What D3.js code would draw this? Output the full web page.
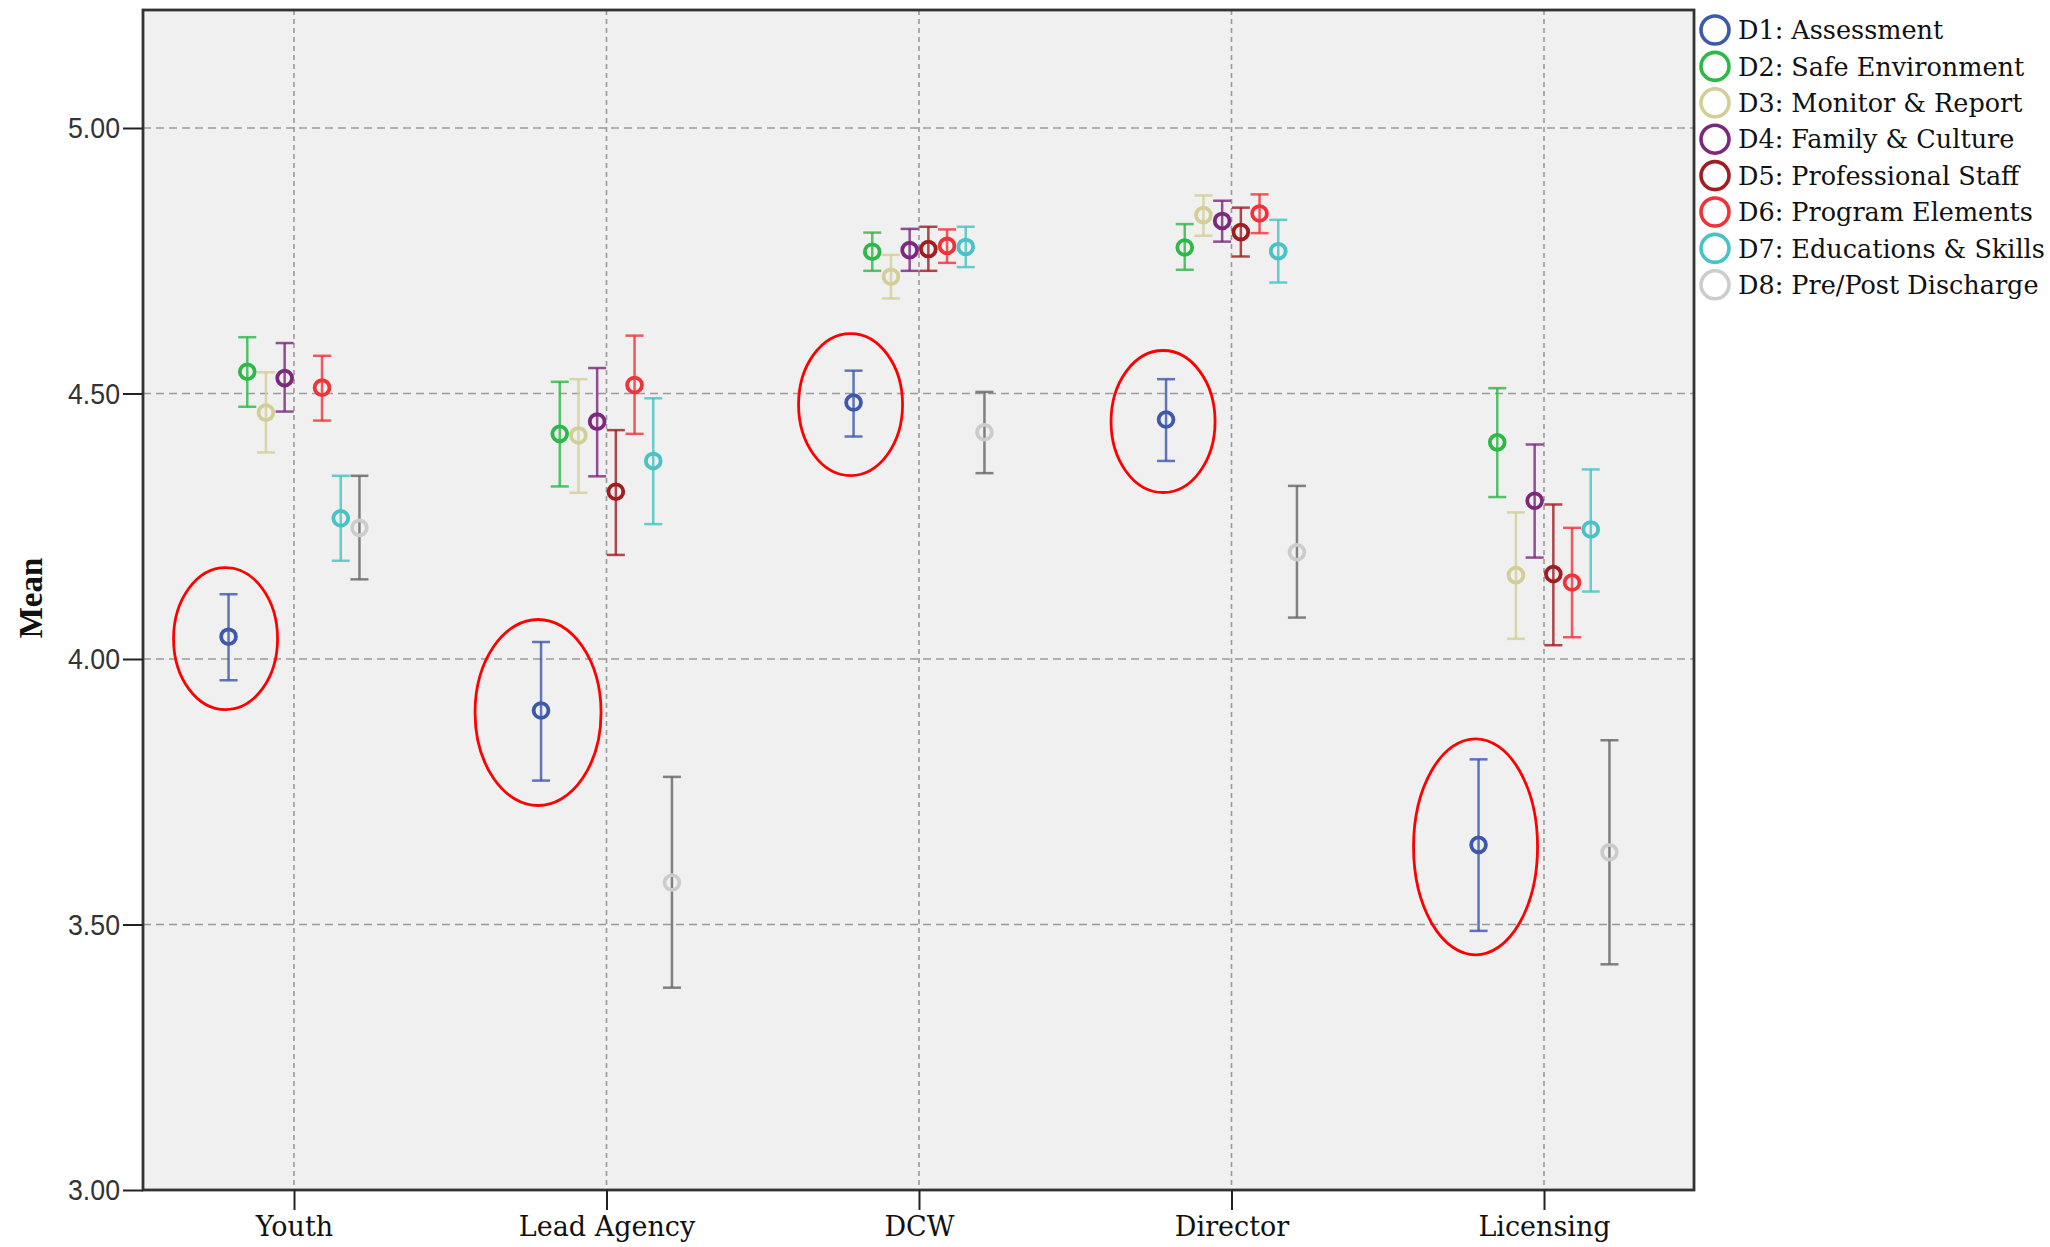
<!DOCTYPE html>
<html>
<head>
<meta charset="utf-8">
<script src="https://cdn.jsdelivr.net/npm/d3@7/dist/d3.min.js"></script>
<style>
  html, body { margin: 0; padding: 0; background: #ffffff; }
  svg { display: block; }
</style>
</head>
<body>
<svg id="chart" width="2050" height="1247"></svg>
<script>
// ---------------- DATA ----------------
const categories = ["Youth", "Lead Agency", "DCW", "Director", "Licensing"];
const seriesNames = [
  "D1: Assessment", "D2: Safe Environment", "D3: Monitor & Report", "D4: Family & Culture",
  "D5: Professional Staff", "D6: Program Elements", "D7: Educations & Skills", "D8: Pre/Post Discharge"
];
const yTicks = [3.0, 3.5, 4.0, 4.5, 5.0];

// means per series (rows) across categories (columns); null = not shown
const means = [
  [4.042, 3.903, 4.483, 4.451, 3.650],
  [4.541, 4.424, 4.767, 4.775, 4.408],
  [4.464, 4.421, 4.720, 4.836, 4.158],
  [4.529, 4.447, 4.770, 4.825, 4.298],
  [null,  4.315, 4.772, 4.804, 4.160],
  [4.511, 4.516, 4.778, 4.839, 4.144],
  [4.265, 4.373, 4.776, 4.768, 4.244],
  [4.247, 3.579, 4.427, 4.201, 3.636]
];
const lowers = [
  [3.960, 3.771, 4.419, 4.373, 3.488],
  [4.475, 4.325, 4.731, 4.733, 4.305],
  [4.389, 4.313, 4.679, 4.797, 4.038],
  [4.466, 4.344, 4.731, 4.786, 4.191],
  [null,  4.196, 4.731, 4.758, 4.026],
  [4.449, 4.424, 4.746, 4.802, 4.041],
  [4.185, 4.254, 4.738, 4.709, 4.127],
  [4.150, 3.381, 4.350, 4.078, 3.425]
];
const uppers = [
  [4.122, 4.032, 4.543, 4.527, 3.811],
  [4.606, 4.522, 4.803, 4.819, 4.510],
  [4.540, 4.527, 4.761, 4.873, 4.276],
  [4.595, 4.548, 4.810, 4.863, 4.404],
  [null,  4.431, 4.814, 4.850, 4.291],
  [4.571, 4.609, 4.809, 4.875, 4.247],
  [4.345, 4.491, 4.814, 4.827, 4.357],
  [4.345, 3.778, 4.503, 4.326, 3.847]
];
// annotated (circled) series and categories
const circledSeries = 0;
const circledCategories = ["Youth", "Lead Agency", "DCW", "Director", "Licensing"];

// ---------------- STYLE ----------------
const markerColors = ["#3e58ac", "#2eb848", "#d3ce97", "#7c287d", "#a11d22", "#ef3338", "#48c2c5", "#cccccc"];
const barColors    = ["#3e58ac", "#2eb848", "#d3ce97", "#7c287d", "#a11d22", "#ef3338", "#48c2c5", "#666666"];
const plot = { left: 143, right: 1694, top: 10, bottom: 1190 };
const catRange = [294, 1544];
const seriesStep = 18.7;
const capHalf = 9;
const ellipseSize = { small: [52, 71], large: [63, 93], xlarge: [62, 108] };
const ellipseSizeByCat = ["small", "large", "small", "small", "xlarge"];

// ---------------- SCALES ----------------
const svg = d3.select("#chart");
const x = d3.scalePoint().domain(categories).range(catRange).padding(0);
const y = d3.scaleLinear().domain([3, 3 + (plot.bottom - plot.top) / 531]).range([plot.bottom, plot.top]);
const offset = i => (i - (seriesNames.length - 1) / 2) * seriesStep;

// plot background
svg.append("rect")
  .attr("x", plot.left).attr("y", plot.top)
  .attr("width", plot.right - plot.left).attr("height", plot.bottom - plot.top)
  .attr("fill", "#f0f0f0");

// gridlines
svg.append("g").selectAll("line").data(yTicks.filter(t => t > 3)).join("line")
  .attr("x1", plot.left).attr("x2", plot.right)
  .attr("y1", d => y(d)).attr("y2", d => y(d))
  .attr("stroke", "#9a9a9a").attr("stroke-width", 1.6).attr("stroke-dasharray", "8,5");
svg.append("g").selectAll("line").data(categories).join("line")
  .attr("x1", d => x(d)).attr("x2", d => x(d))
  .attr("y1", plot.top).attr("y2", plot.bottom)
  .attr("stroke", "#9a9a9a").attr("stroke-width", 1.6).attr("stroke-dasharray", "5,4");

// frame
svg.append("rect")
  .attr("x", plot.left).attr("y", plot.top)
  .attr("width", plot.right - plot.left).attr("height", plot.bottom - plot.top)
  .attr("fill", "none").attr("stroke", "#333333").attr("stroke-width", 2.8);

// axes
const yAxis = svg.append("g").attr("transform", `translate(${plot.left},0)`)
  .attr("font-size", 30).attr("font-family", "'Liberation Sans', Arial, sans-serif")
  .call(d3.axisLeft(y).tickValues(yTicks).tickFormat(d3.format(".2f")).tickSize(20).tickPadding(3));
yAxis.attr("font-size", 30).attr("font-family", "'Liberation Sans', Arial, sans-serif");
yAxis.select(".domain").remove();
yAxis.selectAll(".tick line").attr("stroke", "#222").attr("stroke-width", 2);
yAxis.selectAll(".tick text")
  .style("font-family", "'Liberation Sans', Arial, sans-serif").style("font-size", "30px")
  .attr("textLength", 52).attr("lengthAdjust", "spacingAndGlyphs")
  .attr("x", -75).attr("text-anchor", "start")
  .attr("fill", "#333");

const xAxis = svg.append("g").attr("transform", `translate(0,${plot.bottom})`)
  .call(d3.axisBottom(x).tickSize(20));
xAxis.attr("font-size", 27).attr("font-family", "'DejaVu Serif', serif");
xAxis.select(".domain").remove();
xAxis.selectAll(".tick line").attr("stroke", "#222").attr("stroke-width", 2);
xAxis.selectAll(".tick text")
  .style("font-family", "'DejaVu Serif', serif").style("font-size", "27px")
  .attr("fill", "#111").attr("y", 46).attr("dy", 0);

// y title
svg.append("text")
  .attr("transform", "translate(42,598) rotate(-90)")
  .attr("text-anchor", "middle")
  .style("font-family", "'Liberation Serif', 'Times New Roman', serif")
  .style("font-weight", "bold").style("font-size", "33px").attr("fill", "#111")
  .text("Mean");

// error bars & markers
const pts = [];
seriesNames.forEach((s, i) => {
  categories.forEach((c, j) => {
    if (means[i][j] == null) return;
    pts.push({ i, c, m: means[i][j], lo: lowers[i][j], hi: uppers[i][j] });
  });
});
const g = svg.append("g");
const eb = g.selectAll("g.eb").data(pts).join("g").attr("class", "eb")
  .attr("stroke", d => barColors[d.i]).attr("stroke-width", 2.5).attr("stroke-opacity", 0.82).attr("fill", "none");
eb.append("line")
  .attr("x1", d => x(d.c) + offset(d.i)).attr("x2", d => x(d.c) + offset(d.i))
  .attr("y1", d => y(d.lo)).attr("y2", d => y(d.hi));
eb.append("line")
  .attr("x1", d => x(d.c) + offset(d.i) - capHalf).attr("x2", d => x(d.c) + offset(d.i) + capHalf)
  .attr("y1", d => y(d.hi)).attr("y2", d => y(d.hi));
eb.append("line")
  .attr("x1", d => x(d.c) + offset(d.i) - capHalf).attr("x2", d => x(d.c) + offset(d.i) + capHalf)
  .attr("y1", d => y(d.lo)).attr("y2", d => y(d.lo));
g.selectAll("circle").data(pts).join("circle")
  .attr("cx", d => x(d.c) + offset(d.i)).attr("cy", d => y(d.m)).attr("r", 7.4)
  .attr("fill", "none").attr("stroke", d => markerColors[d.i]).attr("stroke-width", 3.8);

// red annotation ellipses
svg.append("g").selectAll("ellipse").data(circledCategories).join("ellipse")
  .attr("cx", c => x(c) + offset(circledSeries) - 3)
  .attr("cy", c => y(means[circledSeries][categories.indexOf(c)]) + 2)
  .attr("rx", c => ellipseSize[ellipseSizeByCat[categories.indexOf(c)]][0])
  .attr("ry", c => ellipseSize[ellipseSizeByCat[categories.indexOf(c)]][1])
  .attr("fill", "none").attr("stroke", "#ff0000").attr("stroke-width", 2.8);

// legend
const lg = svg.append("g").selectAll("g").data(seriesNames).join("g")
  .attr("transform", (d, i) => `translate(1715,${30 + i * 36.4})`);
lg.append("circle").attr("r", 14).attr("fill", "none")
  .attr("stroke", (d, i) => markerColors[i]).attr("stroke-width", 3.6);
lg.append("text").attr("x", 23).attr("dy", "0.36em")
  .style("font-family", "'DejaVu Serif', serif").style("font-size", "25.5px").attr("fill", "#111")
  .text(d => d);
</script>
</body>
</html>
